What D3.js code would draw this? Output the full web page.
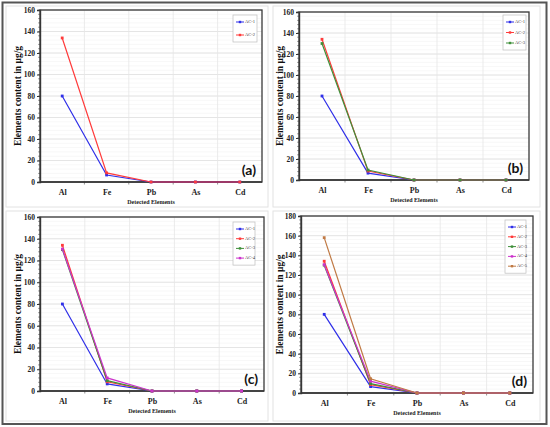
<!DOCTYPE html>
<html><head><meta charset="utf-8">
<script src="https://cdn.jsdelivr.net/npm/d3@7"></script>
<style>body{margin:0;background:#fff}svg{display:block}</style>
</head><body>
<script>
const categories = ["Al","Fe","Pb","As","Cd"];
const seriesNames = ["AC-1","AC-2","AC-3","AC-4","AC-5"];
const ac1 = [80, 6.5, 0, 0, 0];
const ac2 = [134, 8.5, 0, 0, 0];
const ac3 = [130, 9.5, 0, 0, 0];
const ac4 = [130.5, 12, 0, 0, 0];
const ac5 = [158, 14.5, 0, 0, 0];
const yTicks160 = [0,20,40,60,80,100,120,140,160];
const yTicks180 = [0,20,40,60,80,100,120,140,160,180];
const panelLabels = ["(a)","(b)","(c)","(d)"];
const seriesCount = [2,3,4,5];

const allSeries = [ac1, ac2, ac3, ac4, ac5];
const colors = ["#2f2fe8","#ff3b3b","#3f8f3a","#cc33cc","#c07a45"];

const W = 550, H = 427;
const svg = d3.select("body").append("svg").attr("width", W).attr("height", H);
svg.append("rect").attr("width", W).attr("height", H).attr("fill", "#fff");

const layouts = [
  {px:6, py:6, pw:262, ph:201, x0:40, x1:262, y0:10, y1:182, ticks:yTicks160, tx:19, leg:{x:233,y:15,w:24,step:13}},
  {px:273, py:6, pw:267, ph:201, x0:299, x1:529, y0:12, y1:180, ticks:yTicks160, tx:281, leg:{x:503,y:15,w:23,step:10.5}},
  {px:6, py:211, pw:262, ph:210, x0:40, x1:264, y0:217, y1:391, ticks:yTicks160, tx:19, leg:{x:233,y:222,w:22,step:9.7}},
  {px:273, py:211, pw:267, ph:210, x0:301, x1:533, y0:216, y1:393, ticks:yTicks180, tx:281, leg:{x:505,y:220,w:21,step:9.8}}
];

layouts.forEach(L => {
  svg.append("rect").attr("x", L.px).attr("y", L.py).attr("width", L.pw).attr("height", L.ph)
    .attr("fill", "#fff").attr("stroke", "#e2e2e2").attr("stroke-width", 1);
});

const serif = "'Liberation Serif','Times New Roman',serif";

layouts.forEach((L, pi) => {
  const g = svg.append("g");
  const ymax = L.ticks[L.ticks.length-1];
  const x = d3.scalePoint().domain(categories).range([L.x0, L.x1]).padding(0.5);
  const y = d3.scaleLinear().domain([0, ymax]).range([L.y1, L.y0]);
  const step = x.step();

  const minor = d3.range(0, ymax + 0.01, 4);
  g.selectAll(".mg").data(minor).join("line")
    .attr("x1", L.x0).attr("x2", L.x1).attr("y1", d => y(d)).attr("y2", d => y(d))
    .attr("stroke", "#f1f1f1").attr("stroke-width", 0.6);
  g.selectAll(".Mg").data(L.ticks).join("line")
    .attr("x1", L.x0).attr("x2", L.x1).attr("y1", d => y(d)).attr("y2", d => y(d))
    .attr("stroke", "#e0e0e0").attr("stroke-width", 0.8);
  g.selectAll(".vg").data(categories.slice(1)).join("line")
    .attr("x1", d => x(d) - step/2).attr("x2", d => x(d) - step/2)
    .attr("y1", L.y0).attr("y2", L.y1)
    .attr("stroke", "#e6e6e6").attr("stroke-width", 0.8);

  const yAxis = d3.axisLeft(y).tickValues(L.ticks).tickSize(3).tickPadding(2);
  const ya = g.append("g").attr("transform", `translate(${L.x0},0)`).call(yAxis);
  ya.select(".domain").attr("stroke", "#333").attr("stroke-width", 1.4);
  ya.selectAll(".tick line").attr("stroke", "#333");
  ya.selectAll("text").attr("font-family", serif).attr("font-weight", "bold")
    .attr("font-size", 7.5).attr("fill", "#222");
  g.selectAll(".mt").data(minor).join("line")
    .attr("x1", L.x0 - 1.8).attr("x2", L.x0).attr("y1", d => y(d)).attr("y2", d => y(d))
    .attr("stroke", "#444").attr("stroke-width", 0.6);

  const xAxis = d3.axisBottom(x).tickSize(0).tickPadding(7);
  const xa = g.append("g").attr("transform", `translate(0,${L.y1})`).call(xAxis);
  xa.select(".domain").remove();
  xa.selectAll("text").attr("font-family", serif).attr("font-weight", "bold")
    .attr("font-size", 8).attr("fill", "#222");
  g.selectAll(".xt").data(categories.slice(1)).join("line")
    .attr("x1", d => x(d) - step/2).attr("x2", d => x(d) - step/2)
    .attr("y1", L.y1).attr("y2", L.y1 + 2.5).attr("stroke", "#444").attr("stroke-width", 0.6);

  g.append("rect").attr("x", L.x0).attr("y", L.y0).attr("width", L.x1 - L.x0).attr("height", L.y1 - L.y0)
    .attr("fill", "none").attr("stroke", "#3a3a3a").attr("stroke-width", 1.3);
  g.append("line").attr("x1", L.x0).attr("x2", L.x1).attr("y1", L.y1).attr("y2", L.y1)
    .attr("stroke", "#333").attr("stroke-width", 1.4);

  g.append("text").attr("transform", `translate(${L.tx},${(L.y0 + L.y1)/2}) rotate(-90)`)
    .attr("text-anchor", "middle").attr("dominant-baseline", "middle")
    .attr("font-family", serif).attr("font-weight", "bold").attr("font-size", 9.5).attr("fill", "#111")
    .text("Elements content in µg/g");
  g.append("text").attr("x", (L.x0 + L.x1)/2).attr("y", L.y1 + 22)
    .attr("text-anchor", "middle").attr("font-family", serif).attr("font-weight", "bold")
    .attr("font-size", 6).attr("fill", "#222").text("Detected Elements");

  const n = seriesCount[pi];
  const line = d3.line().x((d, i) => x(categories[i])).y(d => y(d));
  for (let s = 0; s < n; s++) {
    const vals = allSeries[s];
    g.append("path").datum(vals).attr("d", line).attr("fill", "none")
      .attr("stroke", colors[s]).attr("stroke-width", 1.2);
    g.selectAll(".m" + s).data(vals).join("rect")
      .attr("x", (d, i) => x(categories[i]) - 1.4).attr("y", d => y(d) - 1.4)
      .attr("width", 2.8).attr("height", 2.8).attr("fill", colors[s]);
  }

  const Lg = L.leg;
  const lh = Lg.step * (n - 1) + 14;
  g.append("rect").attr("x", Lg.x).attr("y", Lg.y).attr("width", Lg.w).attr("height", lh)
    .attr("fill", "#fff").attr("stroke", "#bdbdbd").attr("stroke-width", 0.7);
  for (let s = 0; s < n; s++) {
    const yy = Lg.y + 7 + s * Lg.step;
    g.append("line").attr("x1", Lg.x + 3).attr("x2", Lg.x + 11).attr("y1", yy).attr("y2", yy)
      .attr("stroke", colors[s]).attr("stroke-width", 1);
    g.append("rect").attr("x", Lg.x + 5.8).attr("y", yy - 1.2).attr("width", 2.4).attr("height", 2.4)
      .attr("fill", colors[s]);
    g.append("text").attr("x", Lg.x + 12).attr("y", yy).attr("dominant-baseline", "middle")
      .attr("font-family", serif).attr("font-size", 4.5).attr("fill", "#333").text(seriesNames[s]);
  }

  g.append("text").attr("x", L.x1 - 6).attr("y", L.y1 - 7).attr("text-anchor", "end")
    .attr("font-family", "Lato, 'Open Sans', sans-serif").attr("font-weight", "bold")
    .attr("font-size", 14).attr("fill", "#111").text(panelLabels[pi]);
});

svg.append("rect").attr("x", 2.5).attr("y", 2.5).attr("width", 544).attr("height", 421.5)
  .attr("fill", "none").attr("stroke", "#555").attr("stroke-width", 2);
</script>
</body></html>
